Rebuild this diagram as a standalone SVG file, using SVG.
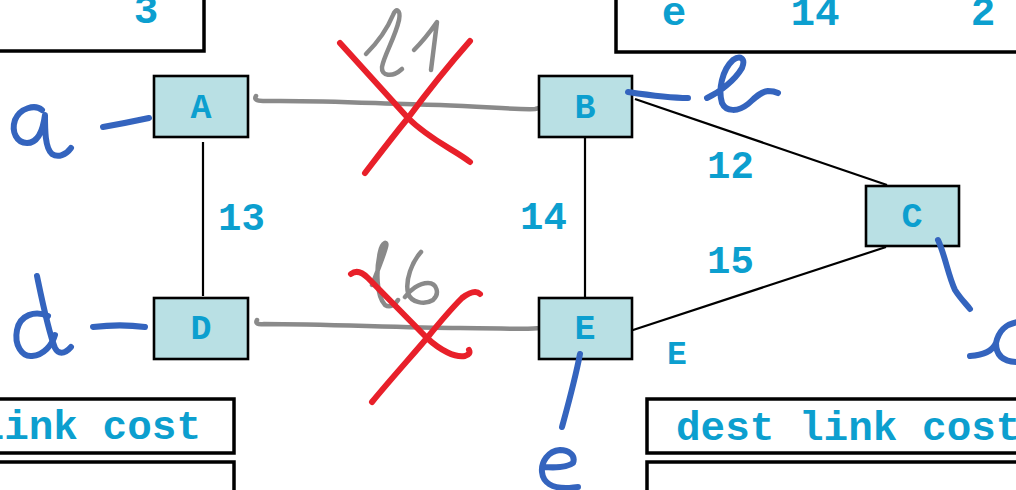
<svg xmlns="http://www.w3.org/2000/svg" width="1016" height="490" viewBox="0 0 1016 490">
  <style>
    .node rect { fill: #b9e0e4; stroke: #000; stroke-width: 2.6; }
    .lbl { font-family: "Liberation Mono", "DejaVu Sans Mono", monospace; font-weight: bold; fill: #0c9fcf; }
    .nl { font-size: 35px; text-anchor: middle; }
    .el { font-size: 39px; }
    .tl { font-size: 41px; }
    .tbl { fill: #fff; stroke: #000; stroke-width: 3.5; }
    .link { stroke: #000; stroke-width: 2.2; fill: none; }
    .old { stroke: #8a8a8a; stroke-width: 4.5; fill: none; stroke-linecap: round; stroke-linejoin: round; }
    .ink { stroke: #3464be; stroke-width: 6; fill: none; stroke-linecap: round; stroke-linejoin: round; }
    .cross { stroke: #e8202a; stroke-width: 6; fill: none; stroke-linecap: round; stroke-linejoin: round; }
  </style>
  <rect width="1016" height="490" fill="#fff"/>

  <!-- forwarding tables (partly outside the view) -->
  <g id="table-top-left">
    <rect class="tbl" x="-10" y="-10" width="214" height="61"/>
    <text class="lbl tl" x="146" y="23" text-anchor="middle">3</text>
  </g>
  <g id="table-top-right">
    <rect class="tbl" x="616" y="-10" width="420" height="62"/>
    <text class="lbl tl" x="674" y="25" text-anchor="middle">e</text>
    <text class="lbl tl" x="815" y="25" text-anchor="middle">14</text>
    <text class="lbl tl" x="983" y="25" text-anchor="middle">2</text>
  </g>
  <g id="table-bottom-left">
    <rect class="tbl" x="-10" y="399" width="244" height="54"/>
    <rect class="tbl" x="-10" y="462" width="244" height="50"/>
    <text class="lbl tl" x="201" y="439" text-anchor="end">link cost</text>
  </g>
  <g id="table-bottom-right">
    <rect class="tbl" x="647" y="399" width="390" height="54"/>
    <rect class="tbl" x="647" y="462" width="390" height="50"/>
    <text class="lbl tl" x="676" y="440">dest link cost</text>
  </g>

  <!-- connectors -->
  <g id="connectors">
    <line class="link" x1="203" y1="142" x2="203" y2="296"/>
    <line class="link" x1="585" y1="138" x2="585" y2="297"/>
    <line class="link" x1="635" y1="99" x2="887" y2="185"/>
    <line class="link" x1="630" y1="331" x2="886" y2="247"/>
    <path class="old" d="M256,96 Q253,101 263,101 C330,100 380,104 440,105 C490,107 520,110 535,109 Q541,108 542,105"/>
    <path class="old" d="M257,320 Q254,325 264,324 C330,324 400,328 460,328 C500,328 530,330 540,328 Q546,326 546,321"/>
  </g>

  <!-- edge labels -->
  <g id="edge-labels">
    <text class="lbl el" x="218" y="230">13</text>
    <text class="lbl el" x="520" y="229">14</text>
    <text class="lbl el" x="707" y="178">12</text>
    <text class="lbl el" x="707" y="273">15</text>
    <text class="lbl nl" x="677" y="364" style="font-size:33px">E</text>
  </g>

  <!-- routers -->
  <g id="node-A" class="node">
    <rect x="154" y="76" width="94" height="61"/>
    <text class="lbl nl" x="201" y="118">A</text>
  </g>
  <g id="node-B" class="node">
    <rect x="539" y="76" width="93" height="61"/>
    <text class="lbl nl" x="585" y="118">B</text>
  </g>
  <g id="node-C" class="node">
    <rect x="866" y="186" width="93" height="60"/>
    <text class="lbl nl" x="912" y="227">C</text>
  </g>
  <g id="node-D" class="node">
    <rect x="154" y="298" width="94" height="61"/>
    <text class="lbl nl" x="201" y="339">D</text>
  </g>
  <g id="node-E" class="node">
    <rect x="539" y="298" width="93" height="61"/>
    <text class="lbl nl" x="585" y="339">E</text>
  </g>

  <!-- handwritten link names, struck out -->
  <g id="old-link-l1">
    <path class="old" d="M366,54 C378,42 388,27 393,15 C396,7 401,10 399,20 C395,38 384,55 382,67 C381,76 392,78 402,69"/>
    <path class="old" d="M414,50 C422,42 430,32 437,22 L431,70"/>
    <path class="cross" d="M340,43 L408,118 C430,140 455,150 470,162"/>
    <path class="cross" d="M470,41 C440,75 425,95 408,118 C390,140 375,160 365,173"/>
  </g>
  <g id="old-link-l6">
    <path class="old" d="M372,285 C378,270 384,255 386,247 C388,240 382,242 380,252 C376,270 376,295 385,305 C390,308 395,305 398,300"/>
    <path class="old" d="M421,252 C412,262 405,280 408,293 C411,303 425,305 433,300 C440,294 437,283 428,283 C419,283 410,290 405,297"/>
    <path class="cross" d="M351,274 C356,270 362,272 368,278 L427,338 C440,350 455,358 465,356 Q471,354 469,350"/>
    <path class="cross" d="M480,294 C476,290 470,292 462,298 C450,310 440,322 427,338 C410,358 390,380 372,402"/>
  </g>

  <!-- handwritten host names -->
  <g id="host-a">
    <path class="ink" d="M103,127 C120,124 135,121 149,118"/>
    <path class="ink" d="M42,110 C35,104 20,108 15,120 C11,132 17,143 27,143 C38,143 43,130 45,115 C45,130 45,148 52,154 C58,158 66,155 71,148"/>
  </g>
  <g id="host-d">
    <path class="ink" d="M93,327 C110,325 130,325 145,327"/>
    <path class="ink" d="M48,316 C35,310 20,315 17,330 C14,345 22,357 32,356 C44,355 52,345 55,335"/>
    <path class="ink" d="M37,276 C42,300 48,330 55,348 C58,354 64,355 71,347"/>
  </g>
  <g id="host-b">
    <path class="ink" d="M628,92 C648,95 668,98 688,98"/>
    <path class="ink" d="M707,98 C720,92 735,80 742,68 C746,58 740,55 733,60 C722,70 718,90 722,103 C726,112 738,112 748,104 C755,98 760,92 768,91 C772,91 776,92 778,93"/>
  </g>
  <g id="host-c">
    <path class="ink" d="M938,240 C945,255 948,275 955,290 C960,298 966,304 970,309"/>
    <path class="ink" d="M970,356 C985,355 993,350 996,343 C999,330 1006,324 1018,322 M996,343 C996,356 1004,362 1018,362"/>
  </g>
  <g id="host-e">
    <path class="ink" d="M580,354 C575,380 568,405 562,427"/>
    <path class="ink" d="M543,467 C555,468 568,467 573,463 C576,455 568,450 560,450 C548,451 541,462 542,472 C543,483 553,488 566,488 C571,488 575,487 578,487"/>
  </g>
</svg>
